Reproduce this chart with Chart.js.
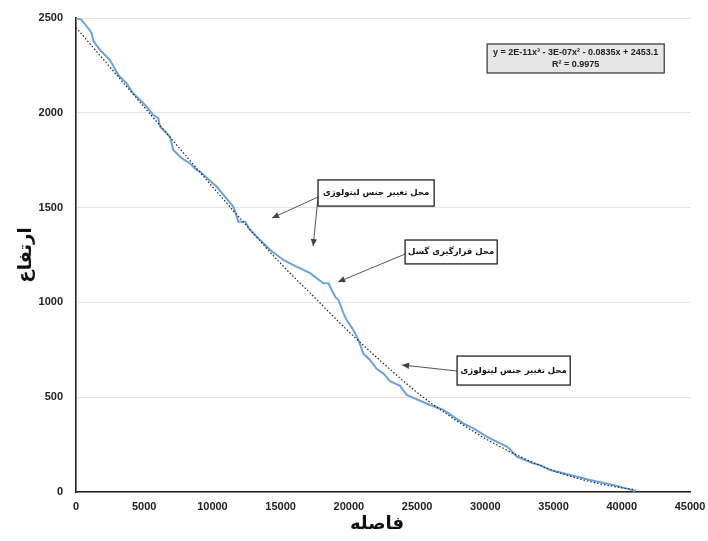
<!DOCTYPE html>
<html>
<head>
<meta charset="utf-8">
<script src="https://cdn.jsdelivr.net/npm/chart.js@4.4.1/dist/chart.umd.min.js"></script>
<style>
  html, body { margin: 0; padding: 0; background: #fff; }
  #wrap { width: 708px; height: 541px; }
</style>
</head>
<body>
<div id="wrap"><canvas id="profile" width="708" height="541"></canvas></div>
<script>
// profile: distance (m) vs elevation (m)
const distance = [0, 400, 900, 1150, 1270, 1760, 2490, 3100, 3710, 4200, 4690, 5180, 5670, 6030, 6160,
  6650, 6890, 7130, 7750, 8360, 8850, 9090, 10310, 11530, 11900, 12390, 12760, 13490, 14300, 15200,
  15930, 17160, 18130, 18500, 18990, 19230, 19600, 19840, 20330, 20700, 21060, 21550, 22040, 22530,
  23020, 23750, 24240, 25950, 26930, 28390, 29120, 30100, 31080, 31570, 31800, 32310, 33500, 34020,
  34750, 37680, 39500, 40500, 41000];
const elevation = [2500, 2490, 2446, 2420, 2380, 2331, 2278, 2199, 2155, 2102, 2068, 2032, 1988, 1971, 1927,
  1892, 1874, 1804, 1760, 1733, 1698, 1690, 1610, 1505, 1426, 1426, 1382, 1329, 1272, 1224,
  1197, 1154, 1101, 1101, 1030, 1013, 943, 907, 854, 802, 730, 696, 650, 625,
  585, 560, 512, 459, 433, 362, 336, 292, 257, 240, 226, 186, 151, 142,
  116, 63, 35, 15, 5];

// polynomial trend line (dotted)
const trendX = [0, 2500, 5000, 7500, 10000, 12500, 15000, 17500, 20000, 22500, 25000, 27500, 30000,
  32500, 35000, 37500, 40000, 41000];
const trendY = [2450, 2240, 2030, 1820, 1610, 1405, 1205, 1025, 845, 680, 525, 395, 282,
  188, 112, 58, 22, 12];

const xTicks = [0, 5000, 10000, 15000, 20000, 25000, 30000, 35000, 40000, 45000];
const yTicks = [0, 500, 1000, 1500, 2000, 2500];

const equationLines = ["y = 2E-11x\u00b3 - 3E-07x\u00b2 - 0.0835x + 2453.1", "R\u00b2 = 0.9975"];
const xTitle = "فاصله";
const yTitle = "ارتفاع";

// callouts in data units: box [x1, x2, yTop, yBottom], arrow start, arrow tips
const callouts = [
  { text: "محل تغییر جنس لیتولوژی", box: [17740, 26250, 1646, 1508], from: [17740, 1556],
    tips: [[14370, 1445], [17380, 1297]] },
  { text: "محل قرارگیری گسل", box: [24120, 30870, 1329, 1203], from: [24120, 1255],
    tips: [[19210, 1108]] },
  { text: "محل تغییر جنس لیتولوژی", box: [27930, 36220, 717, 564], from: [27930, 638],
    tips: [[23900, 670]] }
];
const eqBox = [30130, 43110, 2363, 2210];

const tickFont = { family: "'Liberation Sans Narrow', 'Liberation Sans', Arial, sans-serif", size: 11, weight: "bold" };

function arrow(ctx, x1, y1, x2, y2) {
  ctx.beginPath();
  ctx.moveTo(x1, y1);
  ctx.lineTo(x2, y2);
  ctx.stroke();
  const a = Math.atan2(y2 - y1, x2 - x1);
  const len = 7, w = 3.2;
  ctx.beginPath();
  ctx.moveTo(x2, y2);
  ctx.lineTo(x2 - len * Math.cos(a) + w * Math.sin(a), y2 - len * Math.sin(a) - w * Math.cos(a));
  ctx.lineTo(x2 - len * Math.cos(a) - w * Math.sin(a), y2 - len * Math.sin(a) + w * Math.cos(a));
  ctx.closePath();
  ctx.fill();
}

const overlay = {
  id: "overlay",
  afterDraw(chart) {
    const ctx = chart.ctx;
    const xs = chart.scales.x, ys = chart.scales.y;
    const px = v => xs.getPixelForValue(v);
    const py = v => ys.getPixelForValue(v);
    ctx.save();

    // equation box
    let bx = px(eqBox[0]), by = py(eqBox[2]);
    let bw = px(eqBox[1]) - bx, bh = py(eqBox[3]) - by;
    ctx.fillStyle = "#e6e6e6";
    ctx.fillRect(bx, by, bw, bh);
    ctx.strokeStyle = "#333";
    ctx.lineWidth = 1.2;
    ctx.strokeRect(bx, by, bw, bh);
    ctx.fillStyle = "#222";
    ctx.font = "bold 9px 'Liberation Sans Narrow', 'Liberation Sans', sans-serif";
    ctx.textAlign = "center";
    ctx.textBaseline = "middle";
    ctx.fillText(equationLines[0], bx + bw / 2, by + bh * 0.3);
    ctx.fillText(equationLines[1], bx + bw / 2, by + bh * 0.72);

    // callouts
    callouts.forEach(c => {
      const x1 = px(c.box[0]), y1 = py(c.box[2]);
      const w = px(c.box[1]) - x1, h = py(c.box[3]) - y1;
      ctx.strokeStyle = "#555";
      ctx.fillStyle = "#444";
      ctx.lineWidth = 1;
      c.tips.forEach(t => arrow(ctx, px(c.from[0]), py(c.from[1]), px(t[0]), py(t[1])));
      ctx.fillStyle = "#fff";
      ctx.fillRect(x1, y1, w, h);
      ctx.strokeStyle = "#222";
      ctx.lineWidth = 1.3;
      ctx.strokeRect(x1, y1, w, h);
      ctx.fillStyle = "#111";
      ctx.font = "bold 8.5px 'DejaVu Sans', sans-serif";
      ctx.direction = "rtl";
      ctx.textAlign = "center";
      ctx.fillText(c.text, x1 + w / 2, y1 + h / 2);
      ctx.direction = "ltr";
    });

    // axis titles
    ctx.fillStyle = "#111";
    ctx.font = "bold 18px 'DejaVu Sans', sans-serif";
    ctx.textAlign = "center";
    ctx.textBaseline = "middle";
    ctx.direction = "rtl";
    ctx.fillText(xTitle, (chart.chartArea.left + chart.chartArea.right) / 2 - 6, 524);
    ctx.translate(26, (chart.chartArea.top + chart.chartArea.bottom) / 2);
    ctx.rotate(-Math.PI / 2);
    ctx.fillText(yTitle, 0, 0);
    ctx.restore();
  }
};

new Chart(document.getElementById("profile"), {
  type: "scatter",
  data: {
    datasets: [
      {
        label: "profile",
        data: distance.map((d, i) => ({ x: d, y: elevation[i] })),
        showLine: true,
        borderColor: "#6aa3d8",
        borderWidth: 2,
        pointRadius: 0,
        tension: 0,
        order: 2,
      },
      {
        label: "trend",
        data: trendX.map((d, i) => ({ x: d, y: trendY[i] })),
        showLine: true,
        borderColor: "#222",
        borderWidth: 1.2,
        borderDash: [1.5, 2],
        pointRadius: 0,
        cubicInterpolationMode: "monotone",
        order: 1,
      },
    ],
  },
  options: {
    responsive: false,
    devicePixelRatio: 1,
    animation: false,
    layout: { padding: { left: 0, right: 18, top: 18, bottom: 0 } },
    plugins: {
      legend: { display: false },
      tooltip: { enabled: false },
    },
    scales: {
      x: {
        type: "linear",
        min: 0,
        max: 45000,
        afterBuildTicks: s => { s.ticks = xTicks.map(v => ({ value: v })); },
        afterFit: s => { s.height = 49; s.paddingLeft = 0; s.paddingRight = 0; },
        grid: { display: false, drawTicks: false },
        border: { color: "#222", width: 1.6 },
        ticks: { font: tickFont, color: "#222", padding: 8, maxRotation: 0, autoSkip: false,
          callback: v => String(v) },
      },
      y: {
        type: "linear",
        min: 0,
        max: 2500,
        afterBuildTicks: s => { s.ticks = yTicks.map(v => ({ value: v })); },
        afterFit: s => { s.width = 76; s.paddingTop = 0; s.paddingBottom = 0; },
        grid: { color: "#e3e3e3", lineWidth: 1, drawTicks: false },
        border: { color: "#222", width: 1.6 },
        ticks: { font: tickFont, color: "#222", padding: 13, callback: v => String(v) },
      },
    },
  },
  plugins: [overlay],
});
</script>
</body>
</html>
